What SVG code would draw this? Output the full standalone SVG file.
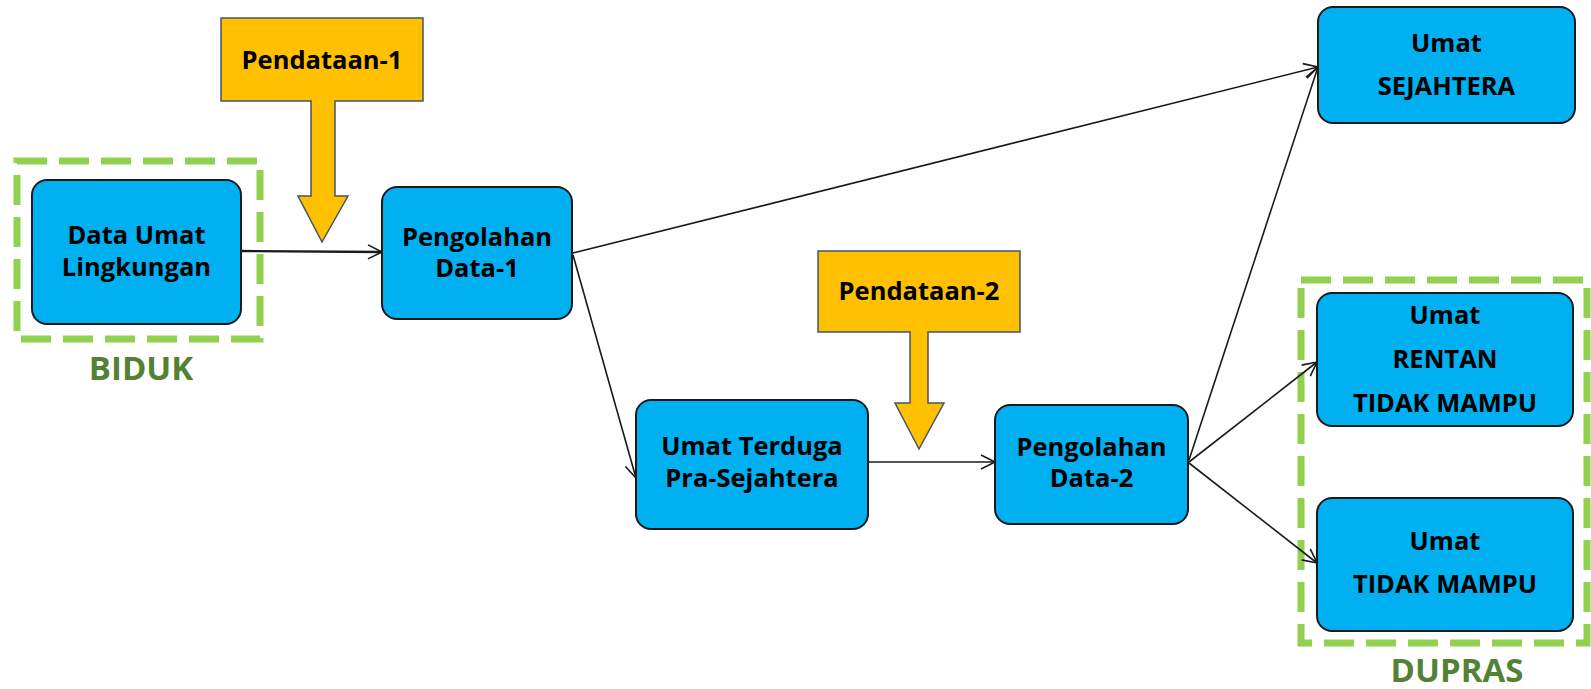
<svg xmlns="http://www.w3.org/2000/svg" width="1591" height="689" viewBox="0 0 1591 689">
<defs>
<style>
.node{fill:#00B0F0;stroke:#1a1a1a;stroke-width:2}
.t{font-family:"Open Sans","Liberation Sans",sans-serif;font-weight:700;font-size:25.5px;fill:#000;text-anchor:middle}
.grp{fill:none;stroke:#92D050;stroke-width:7;stroke-dasharray:30 12}
.gl{font-family:"Open Sans","Liberation Sans",sans-serif;font-weight:700;font-size:33px;fill:#548235;text-anchor:middle}
.inp{fill:#FFC000;stroke:#44546A;stroke-width:1.5}
.c{fill:none;stroke:#1a1a1a;stroke-width:1.6;marker-end:url(#ah)}
</style>
<marker id="ah" markerUnits="userSpaceOnUse" markerWidth="18" markerHeight="18" refX="15" refY="8" orient="auto">
<path d="M1,1 L15,8 L1,15" fill="none" stroke="#1a1a1a" stroke-width="1.6"/>
</marker>
</defs>
<rect width="1591" height="689" fill="#fff"/>

<g id="biduk">
<rect class="grp" x="17" y="161" width="243" height="178"/>
<text class="gl" x="141" y="380">BIDUK</text>
</g>
<g id="dupras">
<rect class="grp" x="1301" y="280" width="286" height="363"/>
<text class="gl" x="1457" y="682">DUPRAS</text>
</g>

<g id="connectors">
<line class="c" x1="241" y1="251" x2="382" y2="252" style="stroke-width:2.4"/>
<line class="c" x1="573" y1="253" x2="1318" y2="67"/>
<line class="c" x1="573" y1="255" x2="636" y2="478"/>
<line class="c" x1="868" y1="462" x2="995" y2="462"/>
<line class="c" x1="1189" y1="460" x2="1318" y2="67"/>
<line class="c" x1="1189" y1="462" x2="1317" y2="362"/>
<line class="c" x1="1189" y1="463" x2="1317" y2="563"/>
</g>

<g id="pendataan1">
<path class="inp" d="M221,18 H423 V101 H335 V196 H348 L322,242 L298,196 H311 V101 H221 Z"/>
<text class="t" x="322" y="69">Pendataan-1</text>
</g>
<g id="pendataan2">
<path class="inp" d="M818,251 H1020 V332 H928 V403 H944 L919,449 L895,403 H910 V332 H818 Z"/>
<text class="t" x="919" y="300">Pendataan-2</text>
</g>

<g id="data-umat">
<rect class="node" x="32" y="180" width="209" height="144" rx="15"/>
<text class="t" x="136.5" y="244">Data Umat</text>
<text class="t" x="136.5" y="276">Lingkungan</text>
</g>
<g id="pengolahan1">
<rect class="node" x="382" y="187" width="190" height="132" rx="15"/>
<text class="t" x="477" y="246">Pengolahan</text>
<text class="t" x="477" y="277">Data-1</text>
</g>
<g id="terduga">
<rect class="node" x="636" y="400" width="232" height="129" rx="15"/>
<text class="t" x="752" y="455">Umat Terduga</text>
<text class="t" x="752" y="487">Pra-Sejahtera</text>
</g>
<g id="pengolahan2">
<rect class="node" x="995" y="405" width="193" height="119" rx="15"/>
<text class="t" x="1091.5" y="456">Pengolahan</text>
<text class="t" x="1091.5" y="487">Data-2</text>
</g>
<g id="sejahtera">
<rect class="node" x="1318" y="7" width="257" height="116" rx="15"/>
<text class="t" x="1446.5" y="52">Umat</text>
<text class="t" x="1446.5" y="95">SEJAHTERA</text>
</g>
<g id="rentan">
<rect class="node" x="1317" y="293" width="256" height="133" rx="15"/>
<text class="t" x="1445" y="324">Umat</text>
<text class="t" x="1445" y="368">RENTAN</text>
<text class="t" x="1445" y="412">TIDAK MAMPU</text>
</g>
<g id="tidak-mampu">
<rect class="node" x="1317" y="498" width="256" height="133" rx="15"/>
<text class="t" x="1445" y="550">Umat</text>
<text class="t" x="1445" y="593">TIDAK MAMPU</text>
</g>
</svg>
